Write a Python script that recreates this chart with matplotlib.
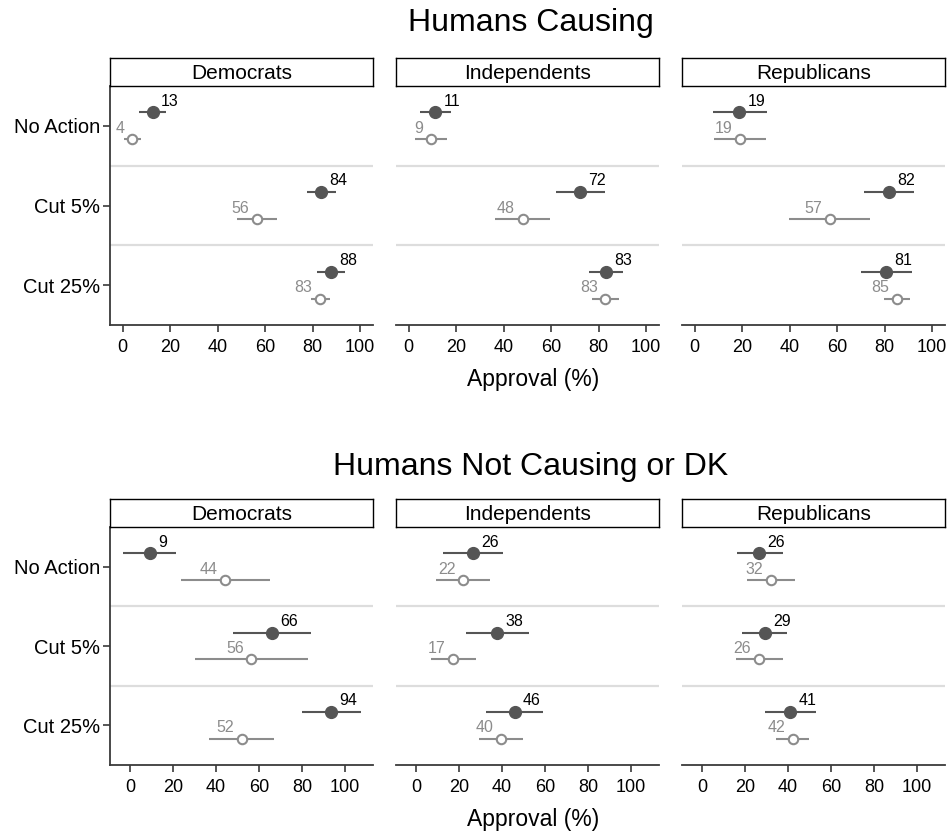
import numpy as np
import matplotlib.pyplot as plt

plt.rcParams['font.family'] = ['Liberation Sans', 'DejaVu Sans']

parties = ['Democrats', 'Independents', 'Republicans']
actions = ['No Action', 'Cut 5%', 'Cut 25%']
groups = ['Humans Causing', 'Humans Not Causing or DK']

# rows = parties, columns = actions
# Humans Causing, filled markers
hc_fill = [[12.6, 83.6, 87.8], [11.3, 72.0, 82.9], [18.9, 81.7, 80.7]]
hc_fill_lo = [[7.0, 77.5, 82.0], [4.9, 62.0, 75.8], [7.6, 71.2, 69.9]]
hc_fill_hi = [[18.3, 89.9, 93.7], [17.9, 82.5, 90.2], [30.3, 92.3, 91.3]]
# Humans Causing, open markers
hc_open = [[4.1, 56.4, 83.1], [9.4, 48.0, 82.8], [19.0, 56.9, 85.0]]
hc_open_lo = [[0.6, 48.0, 79.2], [2.8, 36.4, 77.2], [8.1, 39.9, 79.7]]
hc_open_hi = [[7.6, 64.9, 87.4], [16.1, 59.7, 88.5], [29.9, 73.7, 90.5]]

# Humans Not Causing or DK, filled markers
nc_fill = [[9.0, 65.9, 93.6], [26.3, 37.7, 45.8], [26.4, 29.1, 40.9]]
nc_fill_lo = [[-3.4, 47.8, 80.0], [12.5, 23.0, 32.4], [16.0, 18.5, 29.1]]
nc_fill_hi = [[21.4, 84.3, 107.3], [40.2, 52.6, 59.0], [37.5, 39.5, 53.0]]
# Humans Not Causing or DK, open markers
nc_open = [[44.0, 56.4, 51.9], [21.8, 17.1, 39.6], [32.0, 26.4, 42.1]]
nc_open_lo = [[23.4, 30.2, 36.7], [9.3, 6.7, 29.3], [20.7, 15.7, 34.4]]
nc_open_hi = [[65.1, 82.6, 67.1], [34.3, 27.6, 49.7], [43.1, 37.5, 49.8]]

xticks = [0, 20, 40, 60, 80, 100]

W, H = 952, 840
fig = plt.figure(figsize=(W / 100, H / 100), dpi=100)

dark = '#555555'
light = '#8c8c8c'
spine_col = '#3a3a3a'

panel_x = [110, 396, 682]
panel_w = 263
rows = [
    dict(title=groups[0], title_y=31, strip_top=58, ax_top=86, ax_bot=325,
         xlim=(-5.3, 105.4), fill=(hc_fill, hc_fill_lo, hc_fill_hi),
         open=(hc_open, hc_open_lo, hc_open_hi)),
    dict(title=groups[1], title_y=475, strip_top=499, ax_top=527, ax_bot=765,
         xlim=(-9.5, 113.1), fill=(nc_fill, nc_fill_lo, nc_fill_hi),
         open=(nc_open, nc_open_lo, nc_open_hi)),
]

off = 0.17
ypos = np.arange(len(actions))

for r in rows:
    fig.text(531 / W, 1 - r['title_y'] / H, r['title'], ha='center',
             va='baseline', fontsize=23)
    fig.text(533 / W, 1 - (r['ax_bot'] + 61) / H, 'Approval (%)',
             ha='center', va='baseline', fontsize=16.5)
    for j, party in enumerate(parties):
        left = panel_x[j] / W
        ax = fig.add_axes([left, 1 - r['ax_bot'] / H, panel_w / W,
                           (r['ax_bot'] - r['ax_top']) / H])
        # strip header
        sax = fig.add_axes([left, 1 - r['ax_top'] / H, panel_w / W,
                            (r['ax_top'] - r['strip_top']) / H])
        sax.set_xticks([])
        sax.set_yticks([])
        for s in sax.spines.values():
            s.set_color('black')
            s.set_linewidth(1.0)
        sax.text(0.5, 0.45, party, ha='center', va='center', fontsize=15,
                 transform=sax.transAxes)

        est, lo, hi = [np.array(a[j]) for a in r['fill']]
        oest, olo, ohi = [np.array(a[j]) for a in r['open']]

        for b in [0.5, 1.5]:
            ax.axhline(b, color='#dddddd', lw=1.6, zorder=0)

        ax.hlines(ypos - off, lo, hi, color=dark, lw=1.5, zorder=2)
        ax.plot(est, ypos - off, 'o', color=dark, ms=8.5, zorder=3)
        ax.hlines(ypos + off, olo, ohi, color=light, lw=1.5, zorder=2)
        ax.plot(oest, ypos + off, 'o', mfc='white', mec=light, mew=1.5,
                ms=6.8, zorder=3)

        for k in range(len(actions)):
            ax.annotate(f'{est[k]:.0f}', (est[k], ypos[k] - off),
                        xytext=(6, 2.5), textcoords='offset points',
                        ha='left', va='bottom', fontsize=11.5, color='black')
            ax.annotate(f'{oest[k]:.0f}', (oest[k], ypos[k] + off),
                        xytext=(-5.5, 2.5), textcoords='offset points',
                        ha='right', va='bottom', fontsize=11.5, color=light)

        ax.set_xlim(*r['xlim'])
        ax.set_ylim(2.5, -0.5)
        ax.set_xticks(xticks)
        ax.tick_params(axis='x', length=5, width=1.2, color=spine_col,
                       labelsize=13, pad=5)
        ax.spines['top'].set_visible(False)
        ax.spines['right'].set_visible(False)
        ax.spines['bottom'].set_color(spine_col)
        ax.spines['bottom'].set_linewidth(1.3)
        if j == 0:
            ax.set_yticks(ypos)
            ax.set_yticklabels(actions)
            ax.tick_params(axis='y', length=5, width=1.2, color=spine_col,
                           labelsize=14.5, pad=2)
            ax.spines['left'].set_color(spine_col)
            ax.spines['left'].set_linewidth(1.3)
        else:
            ax.set_yticks([])
            ax.spines['left'].set_visible(False)

fig.savefig('out.png', dpi=100)
